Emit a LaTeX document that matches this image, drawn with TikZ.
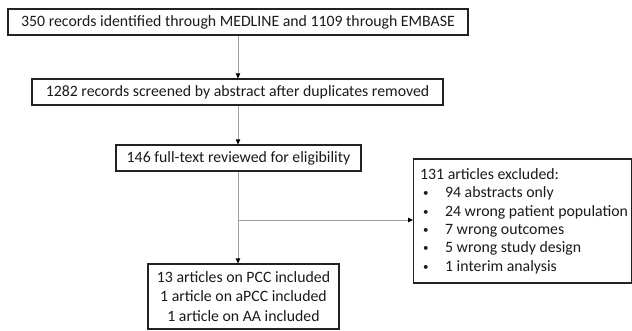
\documentclass[tikz,border=0pt]{standalone}
\usepackage{fontspec}
\setmainfont{Carlito}
\usetikzlibrary{arrows.meta}
\definecolor{boxline}{HTML}{222222}
\definecolor{conn}{HTML}{A0A0A0}
\definecolor{txt}{HTML}{1A1A1A}
\newcommand{\blt}{\hspace{6pt}\makebox[22pt][l]{\raisebox{1pt}{\fontsize{11}{11}\selectfont\textbullet}}}
\tikzset{
  flowbox/.style={draw=boxline, line width=1.2pt, inner sep=0pt, text=txt,
    font=\fontsize{15.8}{19.5}\selectfont, align=center},
  arr/.style={draw=conn, line width=0.9pt,
    -{Triangle[length=5pt,width=4.5pt,color=black]}},
}
\begin{document}
\begin{tikzpicture}[x=1pt,y=-1pt]
\useasboundingbox (0,0) rectangle (632,331);
\node[flowbox, minimum width=460pt, minimum height=26pt] (b1) at (238,22)
  {350 records identified through MEDLINE and 1109 through EMBASE};
\node[flowbox, minimum width=411pt, minimum height=26pt] (b2) at (237.5,92)
  {1282 records screened by abstract after duplicates removed};
\node[flowbox, minimum width=245pt, minimum height=26pt] (b3) at (238.5,158)
  {146 full-text reviewed for eligibility};
\node[flowbox, minimum width=191pt, minimum height=65pt] (b4) at (243.5,296.5)
  {13 articles on PCC included\\1 article on aPCC included\\1 article on AA included};
\node[flowbox, minimum width=218pt, minimum height=124pt, align=left, anchor=west,
      font=\fontsize{15.8}{18.4}\selectfont] (b5) at (413,221)
  {\hspace{3pt}131 articles excluded:\\
   \blt 94 abstracts only\\
   \blt 24 wrong patient population\\
   \blt 7 wrong outcomes\\
   \blt 5 wrong study design\\
   \blt 1 interim analysis};
\coordinate (br) at (238,220);
\draw[arr] (b1.south -| br) -- (b2.north -| br);
\draw[arr] (b2.south -| br) -- (b3.north -| br);
\draw[arr] (b3.south -| br) -- (b4.north -| br);
\draw[arr] (br) -- (br -| b5.west);
\end{tikzpicture}
\end{document}
